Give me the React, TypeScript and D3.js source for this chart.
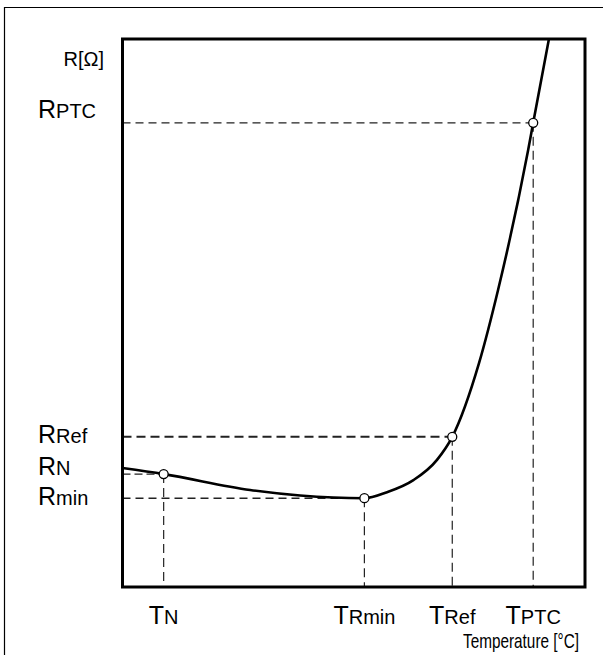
import React from "react";
import * as d3 from "d3";

// Resistance-temperature characteristic of a PTC thermistor (arbitrary units 0..100)
const curveTemp = [0, 8.9, 27.6, 38.4, 52.3, 57.2, 62.9, 68.0, 71.3, 77.1, 81.2, 87.7, 88.8, 92.2];
const curveRes = [21.7, 20.6, 17.7, 16.7, 16.2, 17.3, 19.5, 23.2, 27.4, 40.9, 54.2, 79.7, 84.7, 100];

// characteristic points
const pointNames = ["N", "Rmin", "Ref", "PTC"];
const pointTemp = [8.9, 52.3, 71.3, 88.8];
const pointRes = [20.6, 16.2, 27.4, 84.7];

// axis labels
const resSubs = ["PTC", "Ref", "N", "min"];
const resValues = [84.7, 27.4, 20.6, 16.2];
const tempSubs = ["N", "Rmin", "Ref", "PTC"];
const tempValues = [8.9, 52.3, 71.3, 88.8];

const W = 603;
const H = 655;
const box = { left: 122.5, top: 39, right: 585, bottom: 587 };
const font = "'Liberation Sans', Arial, Helvetica, sans-serif";

// label baseline nudges, purely presentational
const resLabelDy: Record<string, number> = { PTC: -5, Ref: 6, N: 1, min: 7 };
const hDash: Record<string, { dash: string; w: number }> = {
  PTC: { dash: "8,5", w: 1.3 },
  Ref: { dash: "9,5", w: 2 },
  N: { dash: "8,4", w: 1.3 },
  Rmin: { dash: "8,5", w: 1.5 },
};

export default function App() {
  const x = d3.scaleLinear().domain([0, 100]).range([box.left, box.right]);
  const y = d3.scaleLinear().domain([0, 100]).range([box.bottom, box.top]);

  const pts: [number, number][] = curveTemp.map((t, i) => [t, curveRes[i]]);
  const line = d3
    .line<[number, number]>()
    .x((d) => x(d[0]))
    .y((d) => y(d[1]))
    .curve(d3.curveMonotoneX);

  return (
    <svg
      width={W}
      height={H}
      style={{ position: "absolute", left: 0, top: 0, background: "#fff" }}
      fontFamily={font}
    >
      {/* outer frame (only left/top visible) */}
      <line x1={4.5} y1={7} x2={4.5} y2={H} stroke="#000" strokeWidth={1.2} />
      <line x1={4} y1={7.5} x2={W} y2={7.5} stroke="#000" strokeWidth={1.2} />

      {/* dashed guide lines */}
      {pointNames.map((n, i) => (
        <g key={n}>
          <line
            x1={box.left}
            x2={x(pointTemp[i])}
            y1={y(pointRes[i])}
            y2={y(pointRes[i])}
            stroke="#222"
            strokeWidth={hDash[n].w}
            strokeDasharray={hDash[n].dash}
          />
          <line
            x1={x(pointTemp[i])}
            x2={x(pointTemp[i])}
            y1={y(pointRes[i])}
            y2={box.bottom}
            stroke="#222"
            strokeWidth={1.2}
            strokeDasharray="9,5"
          />
        </g>
      ))}

      {/* curve */}
      <path d={line(pts) ?? ""} fill="none" stroke="#000" strokeWidth={2.6} />

      {/* plot box */}
      <rect
        x={box.left}
        y={box.top}
        width={box.right - box.left}
        height={box.bottom - box.top}
        fill="none"
        stroke="#000"
        strokeWidth={3}
      />

      {/* characteristic points */}
      {pointNames.map((n, i) => (
        <circle
          key={n}
          cx={x(pointTemp[i])}
          cy={y(pointRes[i])}
          r={4.5}
          fill="#fff"
          stroke="#000"
          strokeWidth={1.3}
        />
      ))}

      {/* y labels */}
      <text x={104} y={66} textAnchor="end" fontSize={20}>
        R[Ω]
      </text>
      {resSubs.map((s, i) => (
        <text key={s} x={38} y={y(resValues[i]) + resLabelDy[s]} fill="#000">
          <tspan fontSize={25}>R</tspan>
          <tspan fontSize={20}>{s}</tspan>
        </text>
      ))}

      {/* x labels */}
      {tempSubs.map((s, i) => (
        <text key={s} x={x(tempValues[i])} y={624} textAnchor="middle" fill="#000">
          <tspan fontSize={25}>T</tspan>
          <tspan fontSize={20}>{s}</tspan>
        </text>
      ))}
      <text transform="translate(463,648) scale(0.73,1)" fontSize={21}>
        Temperature [°C]
      </text>
    </svg>
  );
}
